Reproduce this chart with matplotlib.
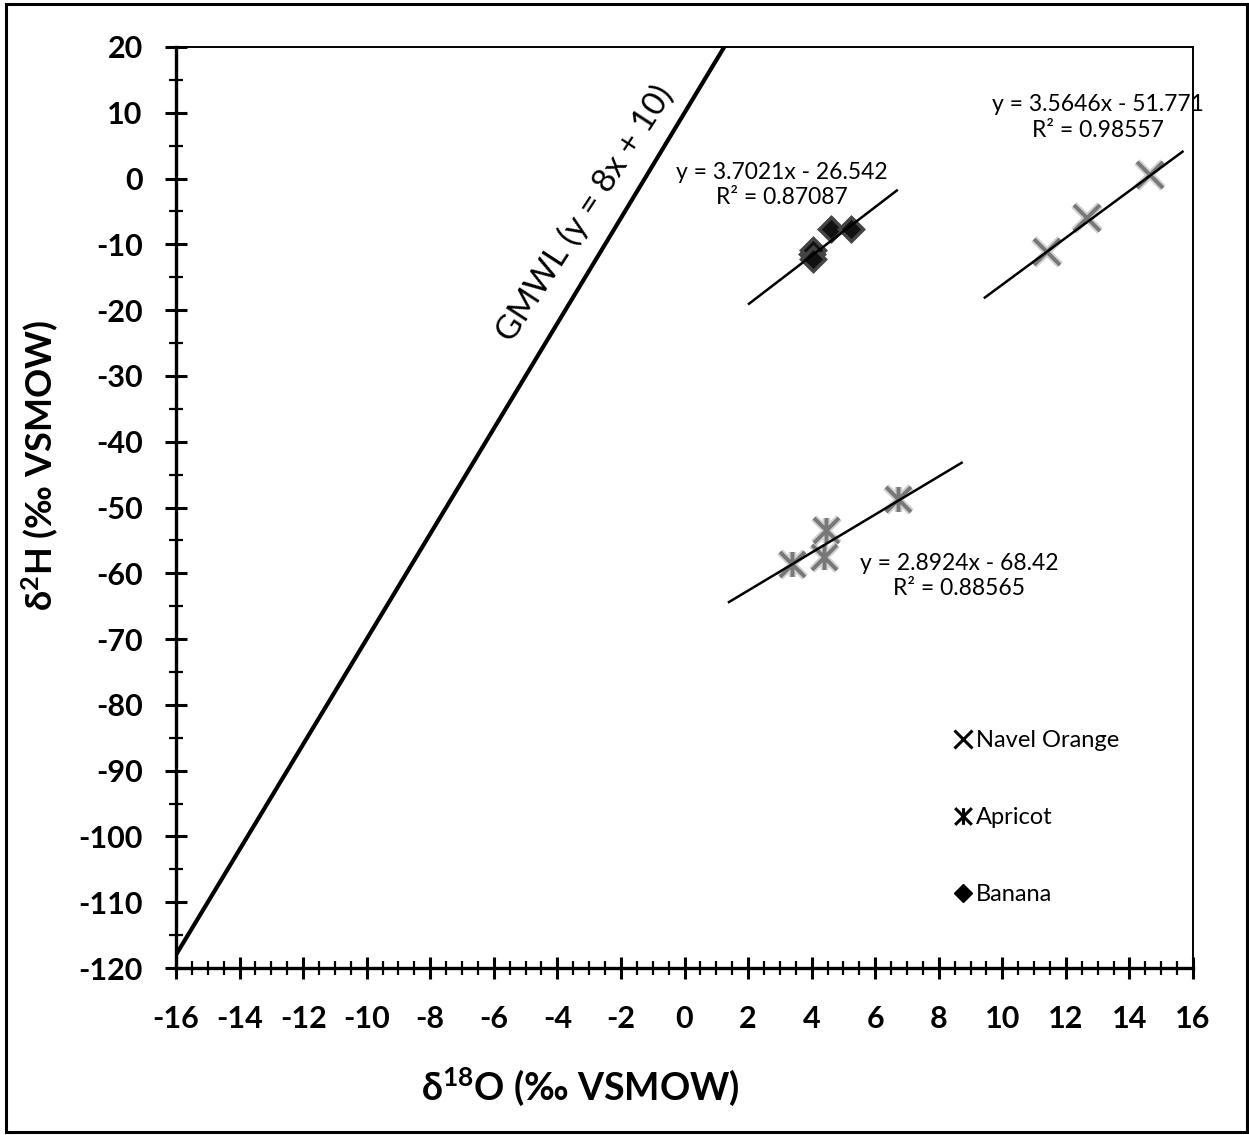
import matplotlib
matplotlib.use("Agg")
import matplotlib.pyplot as plt
import numpy as np
from matplotlib.path import Path
from matplotlib.lines import Line2D
from matplotlib.patches import Rectangle

plt.rcParams['font.family'] = ['Lato', 'DejaVu Sans']
plt.rcParams['mathtext.fontset'] = 'custom'
plt.rcParams['mathtext.rm'] = 'Lato:bold'
plt.rcParams['mathtext.default'] = 'rm'

# ---- data ----
orange_x = [11.40, 12.65, 14.66]
orange_y = [-11.1, -6.0, 0.5]
apricot_x = [3.39, 4.39, 4.44, 6.72]
apricot_y = [-58.6, -57.5, -53.4, -48.7]
banana_x = [4.02, 4.05, 4.05, 4.60, 5.23]
banana_y = [-11.5, -10.9, -12.3, -7.7, -7.7]

orange_fit = (3.5646, -51.771)
apricot_fit = (2.8924, -68.42)
banana_fit = (3.7021, -26.542)
orange_fit_range = [9.45, 15.67]
apricot_fit_range = [1.40, 8.72]
banana_fit_range = [2.03, 6.68]

gmwl = (8.0, 10.0)
gmwl_range = [-16.0, 1.25]

x_ticks = list(range(-16, 17, 2))
y_ticks = list(range(-120, 21, 10))

W, H = 1249, 1135
fig = plt.figure(figsize=(W / 100, H / 100), dpi=100)
ax = fig.add_axes([176 / W, 1 - 968 / H, (1193 - 176) / W, (968 - 47) / H])

# frame around figure
fig.patches.append(Rectangle((6 / W, 3 / H), (1247 - 6) / W, (1131 - 3) / H,
                             transform=fig.transFigure, fill=False,
                             edgecolor='black', linewidth=2.2))

ax.set_xlim(-16, 16)
ax.set_ylim(-120, 20)

# GMWL
gx = np.array(gmwl_range)
ax.plot(gx, gmwl[0] * gx + gmwl[1], color='black', lw=3.0, solid_capstyle='butt')
ax.text(-3.12, -5.3, 'GMWL (y = 8x + 10)', rotation=57, fontsize=24,
        ha='center', va='center', rotation_mode='anchor')

# trendlines
for (m, b), rng in [(orange_fit, orange_fit_range), (apricot_fit, apricot_fit_range),
                    (banana_fit, banana_fit_range)]:
    xx = np.array(rng)
    ax.plot(xx, m * xx + b, color='black', lw=1.8, zorder=3)

star = Path([(-1, -1), (1, 1), (-1, 1), (1, -1), (0, -1), (0, 1)],
            [Path.MOVETO, Path.LINETO, Path.MOVETO, Path.LINETO, Path.MOVETO, Path.LINETO])

# markers with soft glow
for lw, col, al in [(5.5, '#9a9a9a', 0.45), (2.8, '#6e6e6e', 0.9)]:
    ax.plot(orange_x, orange_y, ls='none', marker='x', ms=19, mew=lw, color=col, alpha=al, zorder=2)
    ax.plot(apricot_x, apricot_y, ls='none', marker=star, ms=18, mew=lw, color=col, alpha=al, zorder=2)
ax.plot(banana_x, banana_y, ls='none', marker='D', ms=12, color='#111111',
        markeredgecolor='#444444', mew=2.5, zorder=2)

# equations
eq_fs = 16.5
ax.text(13.0, 9.3, 'y = 3.5646x - 51.771\nR² = 0.98557', fontsize=eq_fs,
        ha='center', va='center', linespacing=1.25)
ax.text(3.05, -1.0, 'y = 3.7021x - 26.542\nR² = 0.87087', fontsize=eq_fs,
        ha='center', va='center', linespacing=1.25)
ax.text(8.65, -60.4, 'y = 2.8924x - 68.42\nR² = 0.88565', fontsize=eq_fs,
        ha='center', va='center', linespacing=1.25)

# legend
handles = [Line2D([], [], ls='none', marker='x', ms=13, mew=2.2, color='black'),
           Line2D([], [], ls='none', marker=star, ms=12, mew=2.2, color='black'),
           Line2D([], [], ls='none', marker='D', ms=9, color='black')]
leg = ax.legend(handles, ['Navel Orange', 'Apricot', 'Banana'], loc='upper left',
                bbox_to_anchor=((955 - 176) / (1193 - 176), (968 - 730) / (968 - 47)),
                frameon=False, fontsize=17, handlelength=0.7, handletextpad=0.2,
                labelspacing=2.37, borderpad=0, borderaxespad=0)

# ticks
ax.set_xticks(x_ticks)
ax.set_yticks(y_ticks)
ax.set_xticks(np.arange(-16, 16.01, 0.5), minor=True)
ax.set_yticks(np.arange(-120, 20.01, 5), minor=True)
ax.set_xticklabels([str(t) for t in x_ticks], fontsize=22, fontweight='bold')
ax.set_yticklabels([str(t) for t in y_ticks], fontsize=22, fontweight='bold')
ax.tick_params(which='major', direction='inout', length=16, width=2.2, top=False, right=False)
ax.tick_params(which='minor', direction='inout', length=9.5, width=1.6, top=False, right=False)
ax.tick_params(axis='x', which='major', pad=19)
ax.tick_params(axis='y', which='major', pad=16)

for s in ['left', 'bottom']:
    ax.spines[s].set_linewidth(2.4)
for s in ['top', 'right']:
    ax.spines[s].set_linewidth(1.4)

fig.text(580 / W, 1 - 1087 / H, 'δ$^{18}$O (‰ VSMOW)', fontsize=27, fontweight='bold',
         ha='center', va='center')
fig.text(40 / W, 1 - 465 / H, 'δ$^{2}$H (‰ VSMOW)', fontsize=26, fontweight='bold',
         ha='center', va='center', rotation=90)

fig.savefig('out.png', dpi=100)
